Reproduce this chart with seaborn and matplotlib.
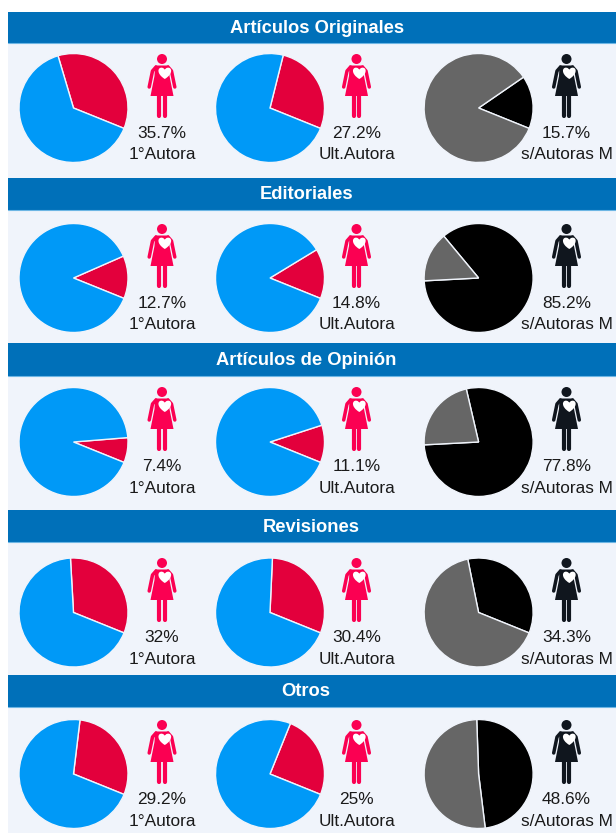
import matplotlib
matplotlib.use("Agg")
import matplotlib.pyplot as plt
from matplotlib.patches import Rectangle, Polygon, Circle, PathPatch
from matplotlib.path import Path
import seaborn as sns

# ---- data ----
categories = ["Artículos Originales", "Editoriales", "Artículos de Opinión", "Revisiones", "Otros"]
first_author = [35.7, 12.7, 7.4, 32, 29.2]
last_author = [27.2, 14.8, 11.1, 30.4, 25]
women_only = [15.7, 85.2, 77.8, 34.3, 48.6]
column_labels = ["1°Autora", "Ult.Autora", "s/Autoras M"]

# ---- layout (pixels of the 616x833 figure) ----
W, H = 616, 833
LEFT = 8
band_top = [12, 178, 343, 510, 675]
band_bottom = [43, 210, 376, 542, 707]
title_x = [317, 306.5, 306, 311, 306]
title_y = [28.5, 194, 360, 528, 692]
pie_y = [108, 278, 442, 612.5, 774]
pie_x = [73.5, 270, 478.6]
icon_x = [162, 356.5, 566.5]
icon_top = [54, 224, 387, 558, 720]
value_y = [133, 303, 466, 638, 800]
label_y = [154, 324, 488, 659, 821]
RADIUS = 54.5
# angle where the highlighted wedge begins, per column and row
start_angles = [[-22] * 5, [-22] * 5, [-22, 183, 183, -22, -83]]

BLUE, RED, BLACK, GREY = "#0099F7", "#E3003C", "#000000", "#666666"
ICON_RED, ICON_BLACK = "#FB0052", "#10161E"
PANEL = "#F0F4FB"
pie_colors = [(RED, BLUE), (RED, BLUE), (BLACK, GREY)]
icon_colors = [ICON_RED, ICON_RED, ICON_BLACK]

sns.set_theme(style="white")
plt.rcParams["font.family"] = ["Liberation Sans", "DejaVu Sans"]

fig = plt.figure(figsize=(W / 100, H / 100), dpi=100, facecolor="white")
bg = fig.add_axes([0, 0, 1, 1])
bg.set_xlim(0, W)
bg.set_ylim(H, 0)
bg.axis("off")

bg.add_patch(Rectangle((LEFT, band_top[0]), W - LEFT, H - band_top[0], fc=PANEL, ec="none", zorder=0))


def draw_woman(ax, cx, top, color):
    """Pictogram of a woman, in figure pixels; cx = axis of the body, top = top of the head."""
    pts = lambda seq: [(cx + x, top + y) for x, y in seq]
    ax.add_patch(Circle((cx, top + 5), 5, fc=color, ec="none", zorder=3))
    ax.add_patch(Polygon(pts([(-7, 11.5), (7, 11.5), (7.5, 22), (11.5, 42), (-11.5, 42), (-7.5, 22)]),
                         closed=True, fc=color, ec="none", zorder=3))
    for sgn in (-1, 1):
        xs, ys = zip(*pts([(sgn * 6, 13), (sgn * 9.5, 17), (sgn * 12.8, 33)]))
        ax.plot(xs, ys, color=color, lw=2.5, solid_capstyle="round", solid_joinstyle="round", zorder=3)
        xs, ys = zip(*pts([(sgn * 2.8, 41), (sgn * 2.8, 61.5)]))
        ax.plot(xs, ys, color=color, lw=3.0, solid_capstyle="round", zorder=3)
    hx, hy, s = cx + 2.8, top + 25, 5.8
    verts = [(hx, hy),
             (hx - 1.5 * s, hy - 0.9 * s), (hx - 1.25 * s, hy - 2.05 * s), (hx - 0.5 * s, hy - 1.95 * s),
             (hx - 0.2 * s, hy - 1.9 * s), (hx, hy - 1.7 * s), (hx, hy - 1.55 * s),
             (hx, hy - 1.7 * s), (hx + 0.2 * s, hy - 1.9 * s), (hx + 0.5 * s, hy - 1.95 * s),
             (hx + 1.25 * s, hy - 2.05 * s), (hx + 1.5 * s, hy - 0.9 * s), (hx, hy)]
    codes = [Path.MOVETO] + [Path.CURVE4] * 12
    ax.add_patch(PathPatch(Path(verts, codes), fc="white", ec="none", zorder=4))


for r, name in enumerate(categories):
    bg.add_patch(Rectangle((LEFT, band_top[r]), W - LEFT, band_bottom[r] - band_top[r],
                           fc="#0070B9", ec="none", zorder=1))
    bg.plot([LEFT, W], [band_bottom[r], band_bottom[r]], color="#6DB6E4", lw=0.8, zorder=2)
    bg.text(title_x[r], title_y[r], name, color="white",
            ha="center", va="center", fontsize=13.2, fontweight="bold", zorder=3)

    values = [first_author[r], last_author[r], women_only[r]]
    for c, v in enumerate(values):
        ax = fig.add_axes([(pie_x[c] - RADIUS) / W, 1 - (pie_y[r] + RADIUS) / H,
                           2 * RADIUS / W, 2 * RADIUS / H])
        ax.pie([v, 100 - v], colors=pie_colors[c], startangle=start_angles[c][r],
               radius=1.0, wedgeprops=dict(edgecolor=PANEL, linewidth=1.0, clip_on=False),
               normalize=True)
        ax.set_xlim(-1, 1)
        ax.set_ylim(-1, 1)
        ax.patch.set_alpha(0)

        draw_woman(bg, icon_x[c], icon_top[r], icon_colors[c])
        bg.text(icon_x[c], value_y[r], f"{v:g}%", color="#1A1A1A", ha="center", va="center",
                fontsize=12.4, zorder=3)
        bg.text(icon_x[c], label_y[r], column_labels[c], color="#1A1A1A", ha="center", va="center",
                fontsize=12.4, zorder=3)

fig.savefig("out.png", dpi=100, facecolor="white")
